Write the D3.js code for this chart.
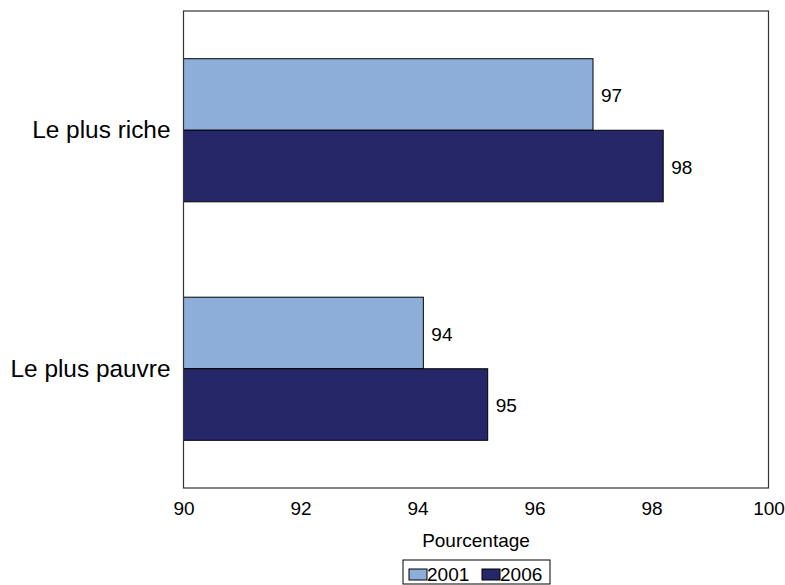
<!DOCTYPE html>
<html><head><meta charset="utf-8">
<script src="https://cdn.jsdelivr.net/npm/d3@7"></script>
<style>body{margin:0;background:#fff;} text{font-family:"Liberation Sans",Arial,sans-serif;fill:#000;}</style>
</head><body>
<svg id="c" width="785" height="585"></svg>
<script>
const categories = ["Le plus riche", "Le plus pauvre"];
const seriesNames = ["2001", "2006"];
const values2001 = [97.0, 94.1];
const values2006 = [98.2, 95.2];
const labels2001 = ["97", "94"];
const labels2006 = ["98", "95"];
const xTicks = [90, 92, 94, 96, 98, 100];
const colors = ["#8DAED9", "#262769"];

const svg = d3.select("#c");
const m = {l:183.5, r:768.5, t:11, b:488};
const x = d3.scaleLinear().domain([90,100]).range([m.l, m.r]);
const y = d3.scaleBand().domain(categories).range([m.t, m.b]).paddingInner(0.4).paddingOuter(0.2);
const ys = d3.scaleBand().domain(seriesNames).range([0, y.bandwidth()]);

const data = [];
categories.forEach((c,i)=>{
  data.push({cat:c, s:"2001", v:values2001[i], lab:labels2001[i], col:colors[0]});
  data.push({cat:c, s:"2006", v:values2006[i], lab:labels2006[i], col:colors[1]});
});

svg.selectAll("rect.bar").data(data).join("rect").attr("class","bar")
  .attr("x", x(90)).attr("y", d=>y(d.cat)+ys(d.s))
  .attr("width", d=>x(d.v)-x(90)).attr("height", ys.bandwidth())
  .attr("fill", d=>d.col).attr("stroke","#000").attr("stroke-width",1);

svg.selectAll("text.val").data(data).join("text").attr("class","val")
  .attr("x", d=>x(d.v)+8).attr("y", d=>y(d.cat)+ys(d.s)+ys.bandwidth()/2+1)
  .attr("dy","0.35em").attr("font-size",19).text(d=>d.lab);

// frame
svg.append("rect").attr("x",m.l).attr("y",m.t).attr("width",m.r-m.l).attr("height",m.b-m.t)
  .attr("fill","none").attr("stroke","#333").attr("stroke-width",1.2);

// x axis
const xa = svg.append("g").attr("transform",`translate(0,${m.b})`)
  .call(d3.axisBottom(x).tickValues(xTicks).tickSize(0).tickPadding(0).tickFormat(d3.format("d")));
xa.select(".domain").remove();
xa.selectAll("text").attr("font-size",19).attr("font-family","Liberation Sans, Arial, sans-serif").attr("dy",null).attr("y",27);

// y axis labels
const ya = svg.append("g").attr("transform",`translate(${m.l},0)`)
  .call(d3.axisLeft(y).tickSize(0).tickPadding(13));
ya.select(".domain").remove();
ya.selectAll("text").attr("font-size",24.4).attr("font-family","Liberation Sans, Arial, sans-serif");

svg.append("text").attr("x",(m.l+m.r)/2-0).attr("y",547).attr("text-anchor","middle").attr("font-size",19).text("Pourcentage");

// legend
const lg = svg.append("g");
lg.append("rect").attr("x",403).attr("y",560).attr("width",147).attr("height",24).attr("fill","#fff").attr("stroke","#000").attr("stroke-width",1);
const lx = [409, 482];
seriesNames.forEach((s,i)=>{
  lg.append("rect").attr("x",lx[i]).attr("y",569).attr("width",18).attr("height",11).attr("fill",colors[i]).attr("stroke","#000").attr("stroke-width",1);
  lg.append("text").attr("x",lx[i]+18).attr("y",581).attr("font-size",19).text(s);
});
</script>
</body></html>
